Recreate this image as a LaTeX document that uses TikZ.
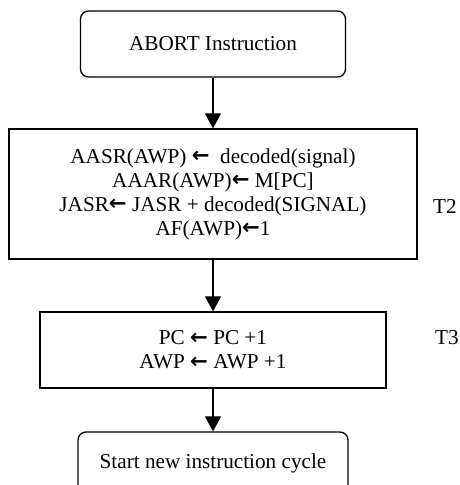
\documentclass[tikz,border=0pt]{standalone}
\usepackage{fontspec}
\setmainfont{Liberation Serif}
\newfontfamily\arrfont{DejaVu Sans}[BoldFont={DejaVu Sans Bold}]
\newcommand{\larr}{{\arrfont\bfseries\raisebox{0.5pt}{←}}}
\usetikzlibrary{arrows.meta}
\begin{document}
\begin{tikzpicture}[x=1pt,y=1pt,
  box/.style={draw, line width=1.3pt, align=center, inner sep=0pt,
    font=\fontsize{21.2}{24}\selectfont},
  rbox/.style={box, rounded corners=8pt},
  flow/.style={-{Triangle[width=16pt,length=15pt]}, line width=1.2pt},
  tlabel/.style={font=\fontsize{21.2}{24}\selectfont, inner sep=0pt}]
\useasboundingbox (0,0) rectangle (460,-485);
\clip (0,0) rectangle (460,-485);
\node[rbox, minimum width=265pt, minimum height=66pt] (abort) at (213,-44) {ABORT Instruction};
\node[box, minimum width=408pt, minimum height=130pt] (t2box) at (213,-194)
  {AASR(AWP) \larr\ \ decoded(signal)\\ AAAR(AWP)\larr\ M[PC]\\ JASR\larr\ JASR + decoded(SIGNAL)\\ AF(AWP)\larr 1};
\node[box, minimum width=346pt, minimum height=76pt] (t3box) at (213,-350)
  {PC \larr\ PC +1\\ AWP \larr\ AWP +1};
\node[rbox, minimum width=270pt, minimum height=62pt] (start) at (213,-463) {Start new instruction cycle};
\node[tlabel] (T2) at (445,-206) {T2};
\node[tlabel] (T3) at (447,-338) {T3};
\draw[flow] (abort.south) -- (t2box.north);
\draw[flow] (t2box.south) -- (t3box.north);
\draw[flow] (t3box.south) -- (start.north);
\end{tikzpicture}
\end{document}
